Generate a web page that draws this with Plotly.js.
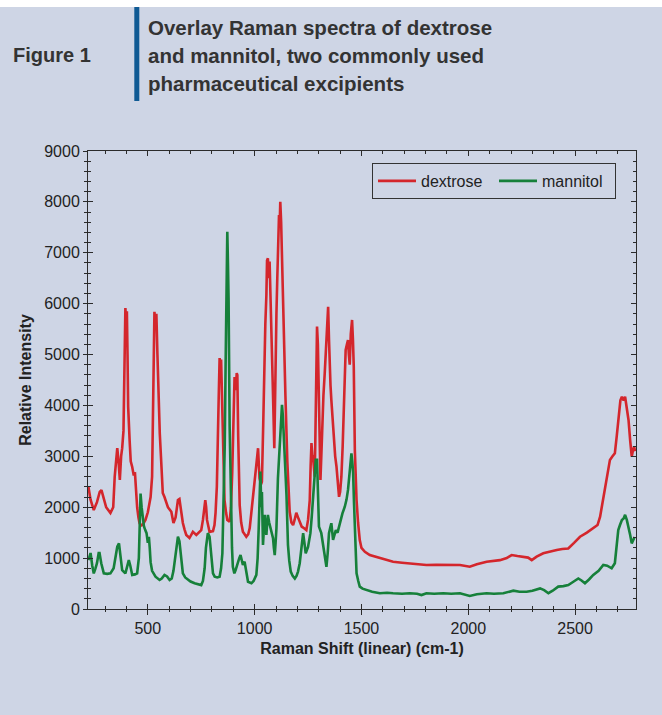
<!DOCTYPE html>
<html>
<head>
<meta charset="utf-8">
<script src="https://cdn.plot.ly/plotly-3.0.1.min.js"></script>
<style>
html,body{margin:0;padding:0;background:#ced5e5;}
#chart{width:662px;height:715px;}
</style>
</head>
<body>
<div id="chart"></div>
<script>
var dextroseShift = [222,232,247,262,275,283,292,305,325,338,345,349,357,363,369,375,380,386,390,395,399,402,405,408,415,420,427,433,440,445,450,456,461,468,474,482,489,500,513,520,525,531,535,540,545,549,552,556,564,570,578,586,594,610,620,630,638,641,648,655,664,672,680,695,711,727,742,750,758,764,769,773,777,789,805,812,817,823,828,832,836,840,843,847,852,859,866,872,883,889,895,900,906,912,916,919,923,930,937,945,961,970,977,985,992,1000,1008,1013,1016,1020,1023,1030,1034,1040,1044,1050,1055,1058,1062,1066,1070,1074,1078,1086,1092,1097,1102,1106,1110,1114,1117,1120,1124,1128,1136,1144,1153,1158,1164,1172,1180,1187,1195,1203,1211,1220,1227,1242,1250,1258,1262,1266,1270,1273,1277,1281,1284,1286,1290,1292,1296,1300,1304,1308,1312,1317,1322,1328,1332,1336,1340,1344,1348,1351,1355,1359,1365,1370,1377,1383,1390,1395,1400,1406,1412,1417,1421,1426,1432,1437,1441,1445,1450,1456,1460,1464,1469,1473,1477,1484,1492,1500,1516,1539,1586,1620,1648,1690,1726,1760,1804,1850,1883,1920,1961,2007,2040,2086,2120,2148,2180,2203,2230,2257,2280,2297,2320,2351,2380,2414,2440,2468,2495,2523,2555,2585,2605,2617,2628,2640,2652,2663,2675,2686,2695,2704,2712,2719,2727,2734,2742,2750,2758,2765,2770,2776,2781];
var dextroseIntensity = [2400,2150,1945,2100,2300,2338,2200,2000,1886,2000,2600,2790,3160,2900,2535,3000,3160,3500,4800,5915,5600,5850,5000,3970,3300,2900,2790,2650,2660,2300,2000,1800,1690,1640,1650,1700,1750,1900,2200,2600,4300,5840,5600,5800,5000,4300,4170,3450,2790,2280,2200,2100,2000,1910,1690,1800,2050,2140,2160,1900,1690,1560,1455,1395,1515,1455,1510,1550,1750,2000,2140,2000,1750,1515,1530,1650,1890,2400,3125,4200,4930,4800,4900,4200,3120,2140,1900,1750,1715,2000,2670,3600,4560,4300,4635,4600,3400,2040,1700,1520,1420,1470,1590,1900,2305,2600,2895,3000,3160,2800,2570,2450,2500,3600,4730,5600,6170,6850,6890,6500,6830,6000,5190,4200,3160,4800,5800,6500,7200,7740,7500,8000,7600,6830,5520,4200,2895,2300,1910,1700,1650,1750,1890,1800,1700,1620,1600,1550,1750,2140,2800,3260,3000,3000,2800,2600,3300,4110,5000,5550,5200,4500,3400,2535,3000,3780,4200,4630,5000,5420,5800,5940,5300,4760,4400,4110,3700,3320,3000,2800,2400,2205,2300,2600,3200,3910,4500,5090,5200,5285,5000,4800,5400,5680,5300,4760,3125,2500,2140,1700,1355,1200,1125,1060,1000,960,930,910,900,880,865,870,865,870,865,830,880,930,950,960,1000,1060,1040,1030,1010,960,1030,1095,1130,1160,1180,1190,1300,1420,1500,1585,1650,1815,2100,2400,2700,2930,3000,3060,3400,3845,4100,4170,4100,4170,3950,3715,3300,2995,3100,3190,3100];

var mannitolShift = [222,232,240,247,255,262,270,274,282,294,310,325,340,350,357,365,372,380,395,405,411,418,427,440,450,458,462,466,471,477,482,488,494,500,505,509,513,520,536,555,565,578,590,602,612,620,625,633,641,648,655,664,675,688,700,719,735,750,758,766,772,777,781,789,793,797,805,813,825,836,843,849,856,860,864,868,872,875,878,883,889,894,898,905,911,916,922,928,934,940,945,953,961,969,985,995,1008,1014,1019,1023,1027,1031,1034,1039,1043,1047,1051,1055,1059,1062,1068,1074,1080,1086,1090,1094,1098,1102,1109,1115,1120,1124,1128,1132,1137,1143,1149,1156,1162,1169,1178,1188,1196,1203,1211,1220,1227,1233,1239,1250,1261,1267,1273,1280,1286,1292,1296,1301,1312,1323,1330,1336,1342,1348,1354,1359,1367,1374,1380,1388,1395,1403,1411,1422,1430,1437,1445,1450,1453,1457,1461,1465,1469,1473,1477,1485,1492,1505,1523,1550,1586,1620,1648,1690,1726,1760,1781,1804,1840,1883,1920,1961,2007,2040,2086,2120,2164,2211,2240,2273,2300,2336,2355,2375,2395,2421,2445,2468,2490,2515,2530,2546,2565,2585,2610,2632,2650,2671,2686,2695,2702,2710,2719,2727,2734,2742,2750,2758,2765,2771,2776,2781];
var mannitolIntensity = [960,1100,850,700,800,900,1100,1100,900,700,690,700,800,1050,1225,1290,1000,765,700,850,960,850,670,680,700,1000,1800,2270,2000,1700,1620,1550,1490,1300,1420,1200,920,750,635,570,600,670,640,570,600,750,900,1150,1420,1330,1000,700,620,570,540,505,480,470,550,800,1200,1400,1490,1420,1200,960,700,635,620,635,800,1095,2140,3200,4760,6200,7415,6800,6070,3580,2140,1200,830,700,765,850,930,1000,1060,950,865,930,700,535,505,550,670,1000,1585,2200,2700,2000,2300,1260,1500,1850,1600,1455,1700,1850,1700,1585,1500,1390,1200,1060,1300,1585,2570,3100,3550,3800,4010,3800,3420,2800,2240,1260,950,735,650,600,650,735,900,1200,1490,1300,1095,1220,1490,1800,2140,2600,2930,2930,2300,1620,1490,1225,1000,830,1100,1490,1600,1685,1360,1450,1550,1500,1620,1700,1880,2010,2150,2340,2700,2900,3060,2900,2670,2100,1490,1000,700,550,440,400,375,340,310,320,310,300,310,300,275,310,300,310,300,310,255,290,310,300,310,360,340,340,360,405,370,310,360,440,450,470,530,600,560,505,580,670,750,865,850,800,900,1200,1550,1650,1750,1780,1850,1750,1620,1450,1290,1350,1390,1380];

var xTitle = 'Raman Shift (linear) (cm-1)';
var yTitle = 'Relative Intensity';
var figLabel = 'Figure 1';
var headingLines = ['Overlay Raman spectra of dextrose', 'and mannitol, two commonly used', 'pharmaceutical excipients'];

var FONT = 'Liberation Sans, Arial, Helvetica, sans-serif';
var BG = '#ced5e5';
var AX = '#2b2b2b';

var traces = [
  {x: dextroseShift, y: dextroseIntensity, name: 'dextrose', type: 'scatter', mode: 'lines',
   line: {color: '#d4262c', width: 2.6}},
  {x: mannitolShift, y: mannitolIntensity, name: 'mannitol', type: 'scatter', mode: 'lines',
   line: {color: '#16803a', width: 2.6}}
];

// plot area in px: left 88, right 636, top 151, bottom 609
function px2x(p){ return (p - 88) / 548; }
function px2y(p){ return (609 - p) / 458; }

var annotations = [
  {text: figLabel, xref: 'paper', yref: 'paper', x: px2x(11), y: px2y(55.5), xanchor: 'left', yanchor: 'middle',
   showarrow: false, font: {family: FONT, size: 20, color: '#333333', weight: 'bold'}}
];
var lineCenters = [27, 55.5, 83.5];
headingLines.forEach(function(t, i){
  annotations.push({text: t, xref: 'paper', yref: 'paper', x: px2x(146), y: px2y(lineCenters[i]),
    xanchor: 'left', yanchor: 'middle', showarrow: false,
    font: {family: FONT, size: 20.5, color: '#333333', weight: 'bold'}});
});

var layout = {
  width: 662, height: 715,
  paper_bgcolor: BG, plot_bgcolor: BG,
  margin: {l: 88, r: 26, t: 151, b: 106},
  showlegend: true,
  legend: {orientation: 'h', x: px2x(616), y: px2y(163), xanchor: 'right', yanchor: 'top',
    bgcolor: 'rgba(0,0,0,0)', bordercolor: '#333', borderwidth: 1,
    font: {family: FONT, size: 16, color: '#222'}, itemwidth: 38,
    entrywidth: 68, entrywidthmode: 'pixels', tracegroupgap: 0},
  xaxis: {range: [220, 2785], dtick: 500, tick0: 0, ticks: 'outside', ticklen: 5, tickcolor: AX, tickwidth: 1,
    showline: true, linecolor: AX, linewidth: 1, showgrid: false, zeroline: false,
    minor: {dtick: 100, ticks: 'outside', ticklen: 2, tickcolor: AX, showgrid: false},
    tickfont: {family: FONT, size: 16, color: '#222'},
    title: {text: xTitle, standoff: 6, font: {family: FONT, size: 16, color: '#222', weight: 'bold'}}},
  yaxis: {range: [0, 9000], dtick: 1000, tick0: 0, ticks: 'outside', ticklen: 4, tickcolor: AX, tickwidth: 1,
    showline: true, linecolor: AX, linewidth: 1, showgrid: false, zeroline: false,
    minor: {dtick: 200, ticks: 'outside', ticklen: 3, tickcolor: AX, showgrid: false},
    tickfont: {family: FONT, size: 16, color: '#222'},
    title: {text: yTitle, standoff: 8, font: {family: FONT, size: 16, color: '#222', weight: 'bold'}}},
  xaxis2: {overlaying: 'x', anchor: 'y', side: 'bottom', range: [220, 2785], dtick: 500, tick0: 0,
    ticks: 'inside', ticklen: 5, tickcolor: AX, showticklabels: false, showline: true, linecolor: AX,
    mirror: 'allticks', showgrid: false, zeroline: false,
    minor: {dtick: 100, ticks: 'inside', ticklen: 3, tickcolor: AX, showgrid: false}},
  yaxis2: {overlaying: 'y', anchor: 'x', side: 'left', range: [0, 9000], dtick: 1000, tick0: 0,
    ticks: 'inside', ticklen: 5, tickcolor: AX, showticklabels: false, showline: true, linecolor: AX,
    mirror: 'allticks', showgrid: false, zeroline: false,
    minor: {dtick: 200, ticks: 'inside', ticklen: 3, tickcolor: AX, showgrid: false}},
  annotations: annotations,
  shapes: [
    {type: 'rect', xref: 'paper', yref: 'paper', x0: px2x(-2), x1: px2x(664), y0: px2y(7), y1: px2y(-2),
     fillcolor: '#ffffff', line: {width: 0}},
    {type: 'rect', xref: 'paper', yref: 'paper', x0: px2x(134.3), x1: px2x(139.3), y0: px2y(101), y1: px2y(7),
     fillcolor: '#0f5a94', line: {width: 0}}
  ]
};

traces.push({x: [], y: [], xaxis: 'x2', yaxis: 'y2', type: 'scatter', mode: 'lines', showlegend: false, hoverinfo: 'skip'});

Plotly.newPlot('chart', traces, layout, {displayModeBar: false, staticPlot: true});
</script>
</body>
</html>
